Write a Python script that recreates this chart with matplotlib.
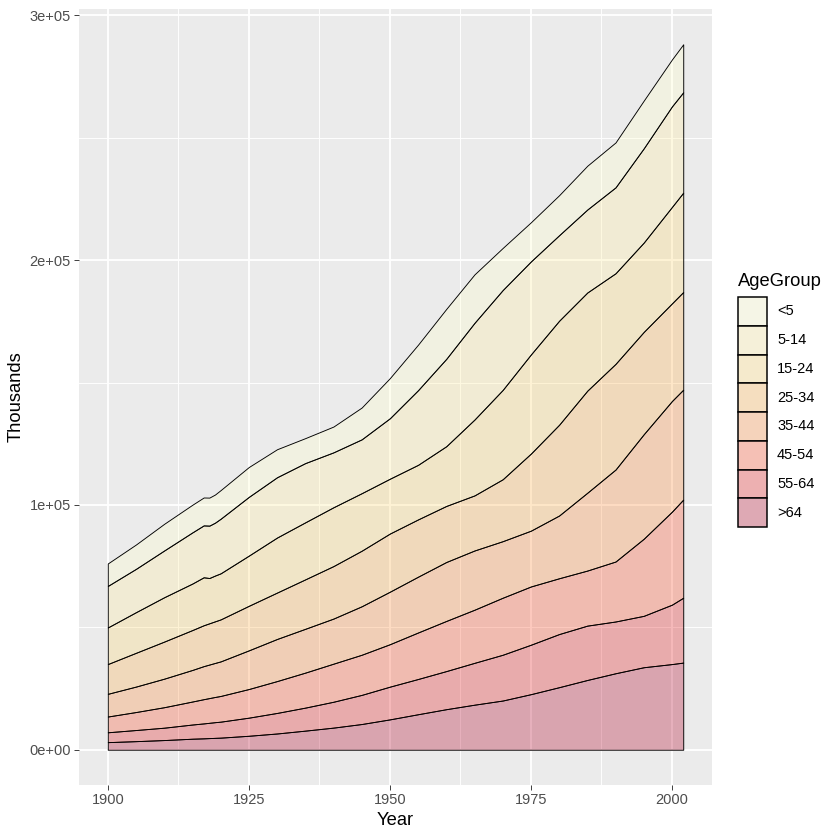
import matplotlib.pyplot as plt
import numpy as np
from matplotlib.colors import to_rgba
from matplotlib.patches import Rectangle

plt.rcParams['font.family'] = ['Liberation Sans', 'DejaVu Sans']

# US population by age group, thousands
years = [1900, 1905, 1910, 1915, 1917, 1918, 1919, 1920, 1925, 1930, 1935, 1940, 1945,
         1950, 1955, 1960, 1965, 1970, 1975, 1980, 1985, 1990, 1995, 2000, 2002]
age_groups = ['<5', '5-14', '15-24', '25-34', '35-44', '45-54', '55-64', '>64']
under5 = [9181, 9950, 10900, 11300, 11400, 11450, 11500, 11700, 12200, 11444, 10200, 10541, 13000,
          16400, 18600, 20400, 19800, 17200, 16000, 16348, 17900, 18354, 19500, 19176, 19609]
age5_14 = [16966, 17700, 19100, 20900, 21200, 21400, 21600, 22300, 24000, 24631, 24200, 22431, 22000,
           24700, 30500, 35700, 39500, 40800, 38000, 34942, 33900, 35095, 38500, 41078, 41000]
age15_24 = [14951, 16600, 18121, 19000, 19600, 18500, 18700, 18821, 20500, 22484, 23300, 24033, 23500,
            22400, 22300, 24400, 31000, 36500, 40500, 42487, 40100, 37013, 36500, 39400, 40600]
age25_34 = [12161, 13800, 15152, 16300, 16700, 16850, 17000, 17157, 18200, 18954, 20200, 21446, 22700,
            23759, 23400, 22900, 22500, 25300, 31500, 37082, 41700, 43176, 41800, 39892, 39900]
age35_44 = [9273, 10400, 11657, 12900, 13500, 13700, 13900, 14121, 15800, 17199, 17900, 18422, 19800,
            21450, 22800, 24081, 24200, 23100, 22800, 25635, 31800, 37579, 42700, 45200, 44900]
age45_54 = [6437, 7350, 8370, 9400, 9900, 10100, 10300, 10498, 11700, 13018, 14300, 15555, 16400,
            17343, 19000, 20485, 21700, 23300, 23800, 22800, 22500, 24500, 31500, 38000, 40100]
age55_64 = [4026, 4550, 5054, 5800, 6100, 6250, 6400, 6532, 7400, 8397, 9400, 10572, 11900,
            13370, 14400, 15572, 17100, 18700, 20200, 21703, 22200, 21148, 21000, 24275, 26500]
over64 = [3099, 3500, 3950, 4500, 4650, 4750, 4850, 4933, 5700, 6634, 7800, 9031, 10500,
          12397, 14500, 16560, 18400, 20100, 22700, 25550, 28500, 31242, 33700, 34992, 35600]

x_ticks = [1900, 1925, 1950, 1975, 2000]
x_minor = [1912.5, 1937.5, 1962.5, 1987.5]
y_ticks = [0, 100000, 200000, 300000]
y_minor = [50000, 150000, 250000]
y_labels = ['0e+00', '1e+05', '2e+05', '3e+05']

palette = ['#ffffcc', '#ffeda0', '#fed976', '#feb24c', '#fd8d3c', '#fc4e2a', '#e31a1c', '#b10026']
alpha = 0.3
panel_bg = '#EBEBEB'

series = [under5, age5_14, age15_24, age25_34, age35_44, age45_54, age55_64, over64]

W = H = 840
fig = plt.figure(figsize=(7, 7), dpi=120)
ax = fig.add_axes([79 / W, 55 / H, 633 / W, 776 / H])
ax.set_facecolor(panel_bg)
for s in ax.spines.values():
    s.set_visible(False)

# stack with >64 at the bottom
x = np.array(years)
base = np.zeros(len(years))
for vals, col in zip(series[::-1], palette[::-1]):
    top = base + np.array(vals)
    ax.fill_between(x, base, top, facecolor=to_rgba(col, alpha), edgecolor='black', linewidth=0.55, zorder=2)
    base = top

ax.set_xticks(x_ticks)
ax.set_xticks(x_minor, minor=True)
ax.set_yticks(y_ticks)
ax.set_yticklabels(y_labels)
ax.set_yticks(y_minor, minor=True)

total_max = base.max()
xr = years[-1] - years[0]
ax.set_xlim(years[0] - 0.05 * xr, years[-1] + 0.05 * xr)
ax.set_ylim(-0.05 * total_max, total_max * 1.05)

ax.grid(which='major', color='white', linewidth=1.1, zorder=1)
ax.grid(which='minor', color='white', linewidth=0.55, zorder=1)
ax.set_axisbelow(True)
ax.tick_params(which='major', length=2.75, width=0.55, color='#333333', labelsize=8.8,
               labelcolor='#4D4D4D', pad=2.2)
ax.tick_params(which='minor', length=0)
ax.set_xlabel('Year', fontsize=11, labelpad=2.75)
ax.set_ylabel('Thousands', fontsize=11, labelpad=2.75)

# legend drawn by hand, ggplot style
fig.text(738 / W, 1 - 282 / H, 'AgeGroup', fontsize=11, ha='left', va='center')
key_top = 297
key_h = 28.75
for i, (lab, col) in enumerate(zip(age_groups, palette)):
    y0 = 1 - (key_top + (i + 1) * key_h) / H
    fig.patches.append(Rectangle((738 / W, y0), 28.8 / W, key_h / H, transform=fig.transFigure,
                                 facecolor='#F2F2F2', edgecolor='none'))
    fig.patches.append(Rectangle((738 / W, y0), 28.8 / W, key_h / H, transform=fig.transFigure,
                                 facecolor=to_rgba(col, alpha), edgecolor='black', linewidth=0.9))
    fig.text(777 / W, y0 + key_h / 2 / H, lab, fontsize=8.8, ha='left', va='center')

fig.savefig('out.png', dpi=120, facecolor='white')
